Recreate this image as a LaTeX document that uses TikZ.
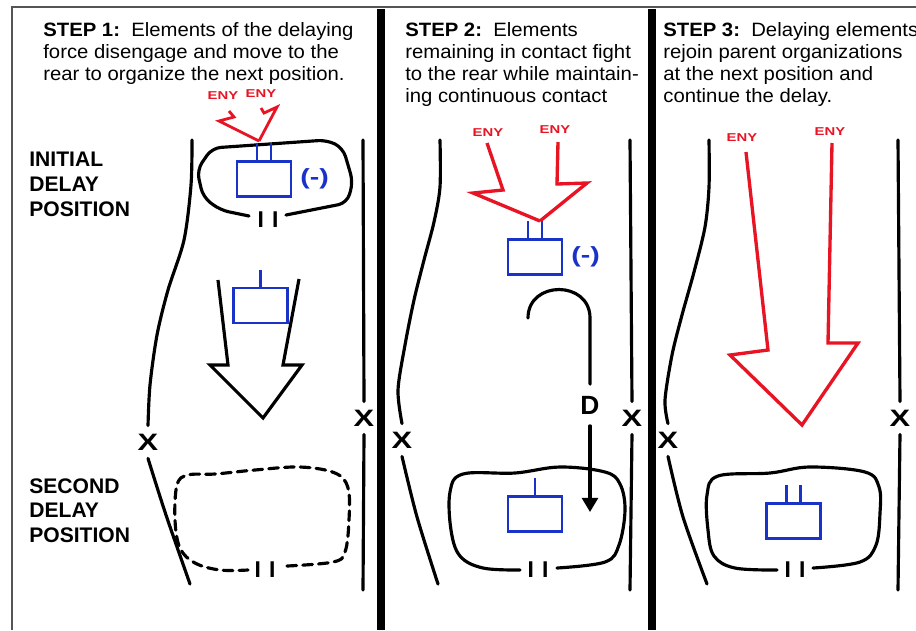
\documentclass[tikz,border=0pt]{standalone}
\usepackage{fontspec}
\setmainfont{Liberation Sans}
\newfontfamily\stepfont{Liberation Sans}[FakeStretch=1.05]
\newfontfamily\widefont{Liberation Sans}[FakeStretch=1.3]
\usetikzlibrary{arrows.meta,positioning,calc}
\definecolor{unitblue}{RGB}{25,50,200}
\definecolor{enyred}{RGB}{232,20,35}
\definecolor{framegray}{RGB}{85,85,85}
\tikzset{
  bnd/.style={line width=1.8pt,line cap=round},
  divln/.style={line width=4pt},
  unitbox/.style={draw=unitblue,rectangle,line width=1.6pt,inner sep=0pt,minimum width=1.08cm,minimum height=0.7cm},
  stem/.style={draw=unitblue,line width=1.6pt},
  enyln/.style={draw=enyred,line width=1.9pt,line join=miter},
  enylbl/.style={text=enyred,font=\fontsize{6.5}{7}\selectfont\widefont\bfseries},
  steptxt/.style={anchor=north west,inner sep=0pt,align=left,font=\fontsize{11}{12.5}\selectfont\stepfont},
  poslbl/.style={anchor=north west,inner sep=0pt,align=left,font=\fontsize{12}{14}\selectfont\bfseries},
  xmark/.style={font=\fontsize{13.5}{13.5}\selectfont\widefont\bfseries,inner sep=4.5pt},
  sizemark/.style={font=\fontsize{13}{13}\selectfont\bfseries,inner sep=0pt},
  strlbl/.style={text=unitblue,font=\fontsize{12.5}{12.5}\selectfont\widefont\bfseries}
}

\begin{document}
\begin{tikzpicture}[x=0.02cm,y=-0.02cm]
  \useasboundingbox (0,0) rectangle (916,630);
  % Frame and panel dividers
  \draw[framegray,line width=1.3pt] (12,630) -- (12,7) -- (916,7);
  \draw[divln] (381,9) -- (381,630);
  \draw[divln] (652,9) -- (652,630);

  % Step texts
  \node[steptxt] (s1) at (43,22) {\textbf{STEP 1:}\ \ Elements of the delaying\\force disengage and move to the\\rear to organize the next position.};
  \node[steptxt] (s2) at (405,22) {\textbf{STEP 2:}\ \ Elements\\remaining in contact fight\\to the rear while maintain-\\ing continuous contact};
  \node[steptxt] (s3) at (663,22) {\textbf{STEP 3:}\ \ Delaying elements\\rejoin parent organizations\\at the next position and\\continue the delay.};

  % Position labels
  \node[poslbl] (ini) at (29,152) {INITIAL\\DELAY\\POSITION};
  \node[poslbl] (sec) at (29,478) {SECOND\\DELAY\\POSITION};

  % Boundaries
  \node[xmark] (xl1) at (148,442) {X};
  \node[xmark] (xr1) at (364,418) {X};
  \node[xmark] (xl2) at (402,440) {X};
  \node[xmark] (xr2) at (632,418) {X};
  \node[xmark] (xl3) at (668,440) {X};
  \node[xmark] (xr3) at (900,418) {X};
  \draw[bnd] plot[smooth] coordinates {(192,140) (191,185) (184,240) (168,290) (157,335) (150,385) (xl1.north)};
  \draw[bnd] plot[smooth] coordinates {(xl1.south) (166,515) (190,584)};
  \draw[bnd] plot[smooth] coordinates {(440,140) (440,187) (434,222) (424,260) (414,300) (405,345) (398,390) (xl2.north)};
  \draw[bnd] plot[smooth] coordinates {(xl2.south) (417,517) (438,584)};
  \draw[bnd] plot[smooth] coordinates {(709,140) (709,187) (705,227) (694,272) (682,315) (672,355) (665,400) (xl3.north)};
  \draw[bnd] plot[smooth] coordinates {(xl3.south) (683,517) (707,584)};
  \draw[bnd] (363,140) -- (xr1.north);
  \draw[bnd] (xr1.south) -- (363,590);
  \draw[bnd] (630,140) -- (xr2.north);
  \draw[bnd] (xr2.south) -- (630,590);
  \draw[bnd] (898,140) -- (xr3.north);
  \draw[bnd] (xr3.south) -- (898,590);

  % Unit positions
  \draw[bnd,rounded corners=5pt] (286,215) -- (347,203) -- (353,182) -- (343,148) -- (327,140) -- (212,148) -- (197,170) -- (203,197) -- (220,210) -- (249,216);
  \node[sizemark] (ii1) at (268,220) {I\hspace{.36em}I};
  \draw[bnd,dash pattern=on 5.5pt off 3.5pt] plot[smooth,tension=0.6] coordinates {(287,566) (333,562) (345,552) (349,520) (348,488) (335,473) (300,467) (255,470) (215,474) (188,475) (177,485) (175,520) (180,548) (195,563) (220,570) (248,570)};
  \node[sizemark] (ii2) at (265,570) {I\hspace{.36em}I};
  \draw[bnd] plot[smooth,tension=0.6] coordinates {(557,568) (605,562) (619,545) (625,510) (620,484) (605,472) (560,467) (515,473) (463,474) (450,492) (451,530) (460,556) (483,568) (520,570)};
  \node[sizemark] (ii3) at (538,570) {I\hspace{.36em}I};
  \draw[bnd] plot[smooth,tension=0.6] coordinates {(813,568) (860,562) (876,545) (880,513) (879,487) (865,472) (810,467) (770,473) (718,476) (707,495) (708,530) (714,556) (735,568) (777,570)};
  \node[sizemark] (ii4) at (795,570) {I\hspace{.36em}I};

  % Friendly units
  \node[unitbox] (u1) at (264,179) {};
  \node[unitbox] (u2) at (260.5,305.5) {};
  \node[unitbox] (u3) at (535,257) {};
  \node[unitbox] (u4) at (535,514) {};
  \node[unitbox] (u5) at (793.5,521) {};
  \foreach \u in {u1,u3,u5} \foreach \dx in {-7,7}
    \draw[stem] ($(\u.north)+(\dx,0)$) -- ++(0,-17);
  \foreach \u in {u2,u4}
    \draw[stem] (\u.north) -- ++(0,-17);
  \node[strlbl,right=1pt of u1] (str1) {(-)};
  \node[strlbl,right=1pt of u3] (str3) {(-)};

  % Enemy
  \node[enylbl] (e1) at (223,96) {ENY};
  \node[enylbl] (e2) at (261,94) {ENY};
  \node[enylbl] (e3) at (488,133) {ENY};
  \node[enylbl] (e4) at (555,130) {ENY};
  \node[enylbl] (e5) at (742,138) {ENY};
  \node[enylbl] (e6) at (830,132) {ENY};
  \draw[enyln,line width=1.6pt] (229,111) -- (234,117) -- (219,121) -- (259,141);
  \draw[enyln,line width=1.6pt] (261,108) -- (264,113) -- (277,107) -- (259,141);
  \draw[enyln] (487,143) -- (503,190) -- (473,193) -- (540,221);
  \draw[enyln] (558,142) -- (557,184) -- (587,183) -- (540,221);
  \draw[enyln] (746,152) -- (768,350) -- (730,355) -- (802,425) -- (858,343) -- (828,343) -- (832,143);

  % Move to the rear
  \draw[bnd,line join=miter,line cap=butt] (218,280) -- (228,365) -- (210,365) -- (263,418) -- (302,365) -- (283,365) -- (299,279);

  % Delay arrow
  \coordinate (dstart) at (528,318);
  \coordinate (dtip) at (590,512);
  \node[font=\fontsize{15}{15}\selectfont\bfseries,inner sep=6.5pt] (dlab) at (590,405) {D};
  \draw[bnd] (dstart) .. controls (528,280) and (590,280) .. (590,318) -- (dlab.north);
  \draw[bnd,-{Triangle[width=9pt,length=8pt]}] (dlab.south) -- (dtip);
\end{tikzpicture}
\end{document}
